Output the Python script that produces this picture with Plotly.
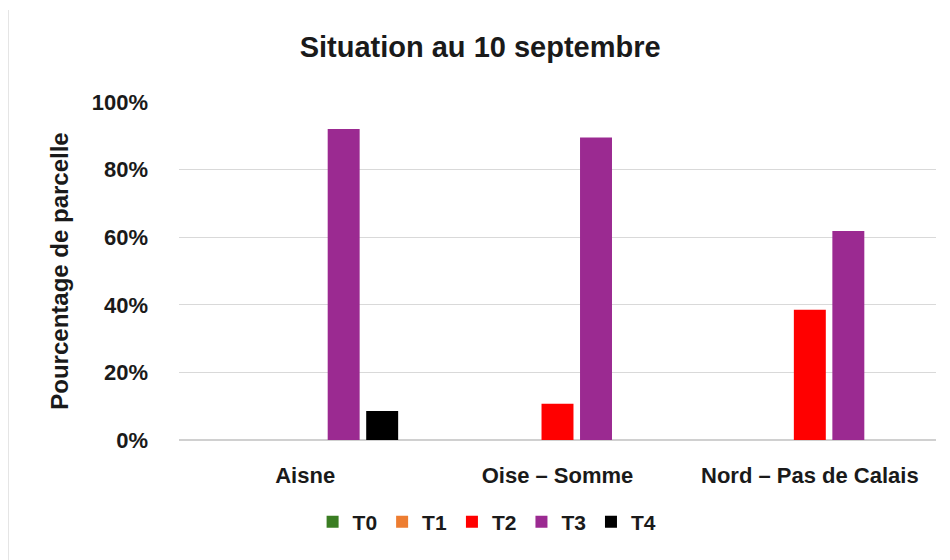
import plotly.graph_objects as go

categories = ["Aisne", "Oise – Somme", "Nord – Pas de Calais"]
series_names = ["T0", "T1", "T2", "T3", "T4"]
T0 = [0.0, 0.0, 0.0]
T1 = [0.0, 0.0, 0.0]
T2 = [0.0, 0.107, 0.385]
T3 = [0.92, 0.895, 0.618]
T4 = [0.086, 0.0, 0.0]
colors = ["#3a7d22", "#ed7d31", "#ff0000", "#9b2a91", "#000000"]

FONT = "Liberation Sans, Arial, sans-serif"
TXT = "#1a1a1a"

fig = go.Figure()
for name, vals, col in zip(series_names, [T0, T1, T2, T3, T4], colors):
    fig.add_trace(go.Bar(name=name, x=categories, y=vals, marker=dict(color=col, line=dict(width=0))))

fig.update_layout(
    width=950, height=560,
    paper_bgcolor="white", plot_bgcolor="white",
    margin=dict(l=171, r=22, t=94, b=128, autoexpand=False),
    barmode="group", bargap=0.237, bargroupgap=0.17,
    font=dict(family=FONT, color=TXT),
    title=dict(text="<b>Situation au 10 septembre</b>", xref="container", x=0.497, xanchor="center",
               yref="container", y=1 - 39 / 560, yanchor="middle",
               font=dict(size=29, family=FONT, color=TXT)),
    showlegend=True,
    legend=dict(orientation="h", xref="paper", x=0.407, xanchor="center", yref="paper", y=-0.243, yanchor="middle",
                font=dict(size=21, family=FONT, color=TXT, weight="bold"), itemwidth=30, traceorder="normal"),
    xaxis=dict(automargin=False, showgrid=False, showline=False, ticks="", ticklabelstandoff=20,
               tickfont=dict(size=22, family=FONT, color=TXT)),
    yaxis=dict(automargin=False, range=[0, 1], dtick=0.2, tickformat=".0%", showgrid=True, gridcolor="#d9d9d9",
               gridwidth=1, zeroline=True, zerolinecolor="#d0d0d0", zerolinewidth=1.5, showline=False, ticks="",
               ticklabelstandoff=30, tickfont=dict(size=22, family=FONT, color=TXT),
               title=dict(text="<b>Pourcentage de parcelle</b>", standoff=16,
                          font=dict(size=24, family=FONT, color=TXT))),
)
fig.update_xaxes(tickprefix="<b>", ticksuffix="</b>")
fig.update_yaxes(tickprefix="<b>", ticksuffix="</b>")

fig.add_shape(type="line", xref="paper", yref="paper", x0=-0.226, x1=-0.226, y0=1.272, y1=-0.36,
              line=dict(color="#d9d9d9", width=1.5))

fig.write_html("out.html")
